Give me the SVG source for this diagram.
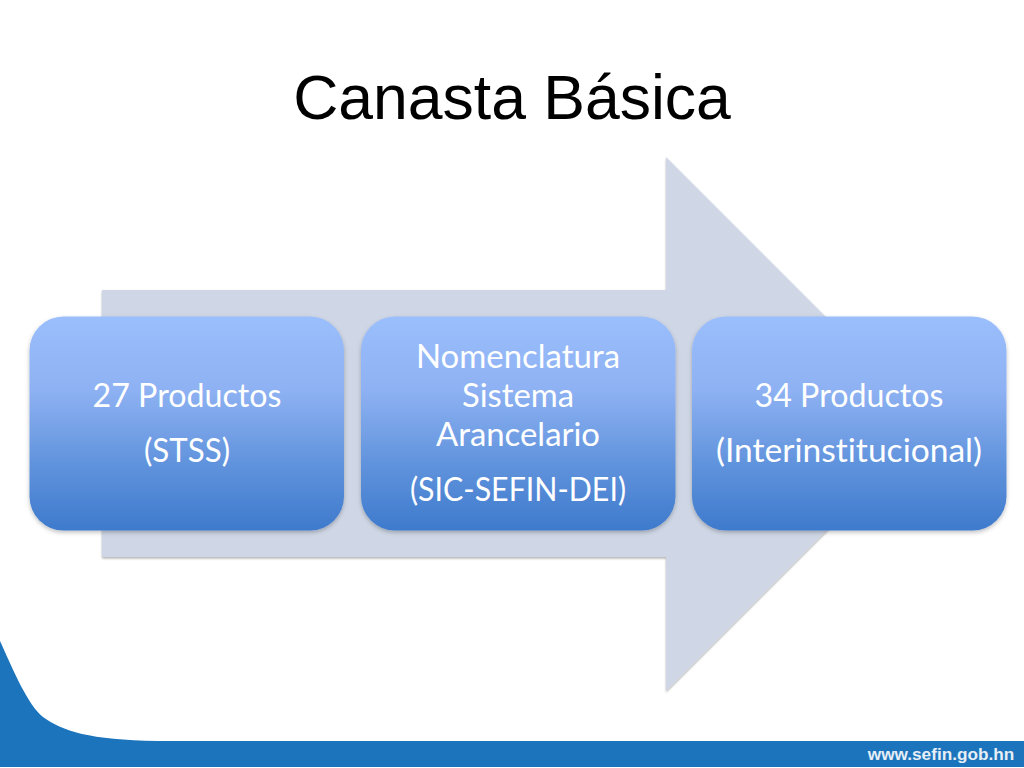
<svg xmlns="http://www.w3.org/2000/svg" width="1024" height="768" viewBox="0 0 1024 768">
<style>
.t{font-family:"Lato","Open Sans","Liberation Sans",sans-serif;font-size:32.200px;fill:#fff;text-anchor:middle;font-variant-ligatures:none}
.box{fill:url(#g);filter:url(#s)}
</style>
<defs>
<linearGradient id="g" x1="0" y1="0" x2="0" y2="1">
<stop offset="0" stop-color="#9BBEFC"/><stop offset=".35" stop-color="#8DB1F2"/><stop offset=".7" stop-color="#5F92DC"/><stop offset="1" stop-color="#3E7ACC"/>
</linearGradient>
<filter id="s" x="-5%" y="-5%" width="110%" height="115%"><feDropShadow dx="0" dy="2" stdDeviation="2" flood-color="#000" flood-opacity=".25"/></filter>
<filter id="a" x="-5%" y="-5%" width="110%" height="110%"><feDropShadow dx="0" dy="1.500" stdDeviation="1" flood-color="#000" flood-opacity=".3"/></filter>
</defs>
<rect width="1024" height="768" fill="#fff"/>
<g id="footer">
<path d="M0 641C14 672 28 705 43 717C62 731 90 740 157 741H1024V767H0Z" fill="#1C75BC"/>
<text x="941" y="760" font-family="Liberation Sans,sans-serif" font-size="17.200" font-weight="700" fill="#E6EEF6" text-anchor="middle">www.sefin.gob.hn</text>
</g>
<text id="title" x="512" y="119" font-family="Liberation Sans,sans-serif" font-size="62.500" fill="#000" text-anchor="middle">Canasta Básica</text>
<g id="arrow"><path d="M102 290H666V157L933 424L666 691V557H102Z" fill="#CFD7E6" filter="url(#a)"/></g>
<g id="connectors"></g>
<g id="node1"><rect class="box" x="29.500" y="316.500" width="314.500" height="214" rx="34"/>
<text class="t" x="187" y="407">27 Productos</text><text class="t" x="187" y="462" textLength="86" lengthAdjust="spacingAndGlyphs">(STSS)</text></g>
<g id="node2"><rect class="box" x="361" y="316.500" width="314.500" height="214" rx="34"/>
<text class="t" x="518" y="368" textLength="204" lengthAdjust="spacingAndGlyphs">Nomenclatura</text><text class="t" x="518" y="407" textLength="112" lengthAdjust="spacingAndGlyphs">Sistema</text><text class="t" x="518" y="446" textLength="164" lengthAdjust="spacingAndGlyphs">Arancelario</text><text class="t" x="518" y="501" textLength="216" lengthAdjust="spacingAndGlyphs">(SIC-SEFIN-DEI)</text></g>
<g id="node3"><rect class="box" x="692" y="316.500" width="314.500" height="214" rx="34"/>
<text class="t" x="849" y="407">34 Productos</text><text class="t" x="849" y="462" textLength="266" lengthAdjust="spacingAndGlyphs">(Interinstitucional)</text></g>
</svg>
